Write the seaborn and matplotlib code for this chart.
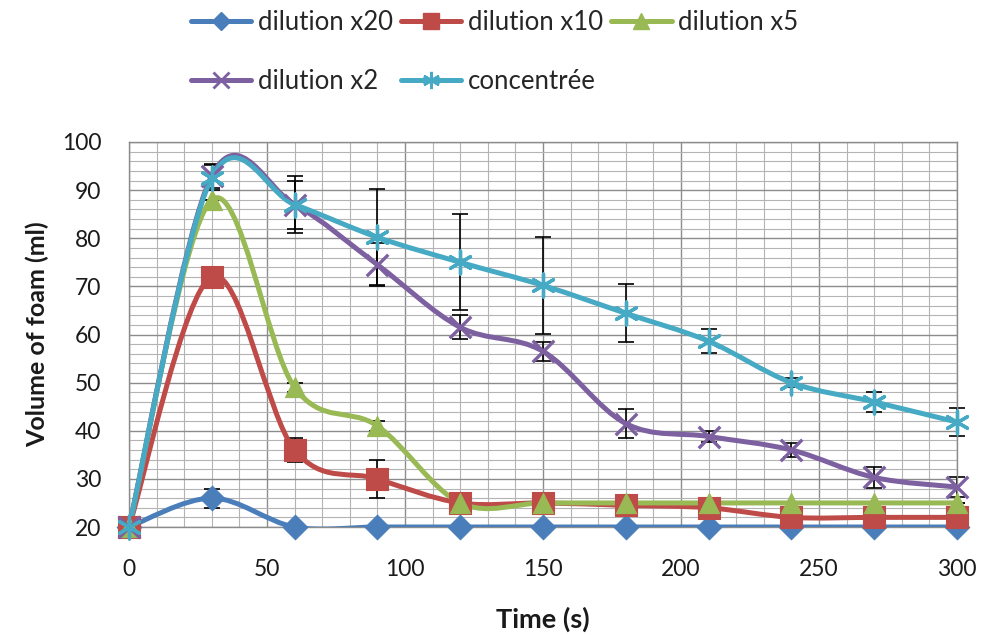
import matplotlib
matplotlib.use("Agg")
import matplotlib.pyplot as plt
from matplotlib.path import Path
from matplotlib.patches import PathPatch
from matplotlib.lines import Line2D
from matplotlib.ticker import MultipleLocator
import numpy as np
import pandas as pd
import seaborn as sns

# --- data ---
time_s = [0, 30, 60, 90, 120, 150, 180, 210, 240, 270, 300]

dil_x20 = [20, 26, 20, 20, 20, 20, 20, 20, 20, 20, 20]
dil_x10 = [20, 72, 36, 30, 25, 25, 24.5, 24, 22, 22, 22]
dil_x5 = [20, 88, 49, 41, 25, 25, 25, 25, 25, 25, 25]
dil_x2 = [20, 93, 87, 74.5, 61.5, 56.5, 41.5, 38.8, 36, 30.3, 28.3]
conc = [20, 92.6, 87, 80.2, 75, 70.2, 64.4, 58.6, 50, 46, 41.8]

err_x20 = [0, 2, 0, 0, 0, 0, 0, 0, 0, 0, 0]
err_x10 = [0, 0, 2.5, 4, 1, 0, 1, 0, 0, 0, 0]
err_x5 = [0, 0, 1, 1, 1, 0, 1, 0, 0, 0, 0]
err_x2 = [0, 2.5, 5, 4.5, 2.5, 2, 3, 1.2, 1.5, 2.2, 2]
conc_err = [0, 2.6, 6, 10, 10, 10, 6, 2.5, 1, 2, 2.9]

labels = ["dilution x20", "dilution x10", "dilution x5", "dilution x2", "concentrée"]
colors = ["#4A7EBB", "#BE4B48", "#98B954", "#7D60A0", "#46AAC5"]
markers = ["D", "s", "^", "x", (6, 2, 0)]
marker_sizes = [12.5, 16, 14.5, 15.5, 16.5]

series = [dil_x20, dil_x10, dil_x5, dil_x2, conc]
errors = [err_x20, err_x10, err_x5, err_x2, conc_err]


def smooth_path(xs, ys):
    """Excel-like smoothed line: cubic Bezier through the points."""
    pts = np.column_stack([xs, ys]).astype(float)
    n = len(pts)
    verts = [pts[0]]
    codes = [Path.MOVETO]
    for i in range(n - 1):
        p0 = pts[max(i - 1, 0)]
        p1 = pts[i]
        p2 = pts[i + 1]
        p3 = pts[min(i + 2, n - 1)]
        c1 = p1 + (p2 - p0) / 6.0
        c2 = p2 - (p3 - p1) / 6.0
        verts += [c1, c2, p2]
        codes += [Path.CURVE4] * 3
    return Path(verts, codes)


def is_line_marker(m):
    return m == "x" or isinstance(m, tuple)


sns.set_theme(style="white")
plt.rcParams['font.family'] = ['Lato', 'DejaVu Sans']

fig = plt.figure(figsize=(9.91, 6.35), dpi=100)
ax = fig.add_axes([129 / 991, 1 - 527 / 635, (957 - 129) / 991, (527 - 142) / 635])

ax.set_xlim(0, 300)
ax.set_ylim(20, 100)
ax.xaxis.set_major_locator(MultipleLocator(50))
ax.xaxis.set_minor_locator(MultipleLocator(10))
ax.yaxis.set_major_locator(MultipleLocator(10))
ax.yaxis.set_minor_locator(MultipleLocator(2))
ax.grid(which="major", color="#8c8c8c", linewidth=1.0)
ax.grid(which="minor", color="#b4b4b4", linewidth=0.8)
ax.set_axisbelow(True)
for sp in ax.spines.values():
    sp.set_color("#8c8c8c")
    sp.set_linewidth(1.0)

# error bars (black, drawn under the lines)
for ys, es in zip(series, errors):
    ax.errorbar(time_s, ys, yerr=es, fmt="none", ecolor="black", elinewidth=1.2,
                capsize=6, capthick=1.2, zorder=2, clip_on=False)

# smoothed lines
for ys, c in zip(series, colors):
    ax.add_patch(PathPatch(smooth_path(time_s, ys), facecolor="none", edgecolor=c,
                           linewidth=3.6, zorder=3, capstyle="round", joinstyle="round"))

# markers via seaborn
df = pd.DataFrame({
    "time": np.tile(time_s, len(labels)),
    "volume": np.concatenate(series),
    "serie": np.repeat(labels, len(time_s)),
})
for lab, c, m, s in zip(labels, colors, markers, marker_sizes):
    sub = df[df["serie"] == lab]
    if is_line_marker(m):
        sns.scatterplot(data=sub, x="time", y="volume", ax=ax, marker=m, s=s ** 2,
                        color=c, linewidth=2.4, legend=False, zorder=4, clip_on=False)
    else:
        sns.scatterplot(data=sub, x="time", y="volume", ax=ax, marker=m, s=s ** 2,
                        color=c, edgecolor=c, linewidth=0.8, legend=False, zorder=4,
                        clip_on=False)

ax.tick_params(axis="x", which="both", length=0, labelsize=16.5, pad=23, colors="#1a1a1a")
ax.tick_params(axis="y", which="both", length=0, labelsize=16.5, pad=20, colors="#1a1a1a")
ax.set_xlabel("Time (s)", fontsize=19.5, fontweight="bold", labelpad=19, color="#1a1a1a")
ax.set_ylabel("Volume of foam (ml)", fontsize=18, fontweight="bold", labelpad=9, color="#1a1a1a")

# legend in Excel row order: reorder for column-wise filling
handles = []
for c, m, s in zip(colors, markers, marker_sizes):
    if is_line_marker(m):
        h = Line2D([], [], color=c, linewidth=3.6, marker=m, markersize=s * 0.75,
                   markeredgewidth=2.0)
    else:
        h = Line2D([], [], color=c, linewidth=3.6, marker=m, markersize=s * 0.75)
    handles.append(h)
order = [0, 3, 1, 4, 2]
fig.legend([handles[i] for i in order], [labels[i] for i in order],
           loc="upper left", bbox_to_anchor=(191 / 991, 1 - 10 / 635), ncol=3,
           frameon=False, fontsize=18.5, handlelength=2.35, handletextpad=0.25,
           columnspacing=0.32, labelspacing=1.32, borderpad=0, borderaxespad=0)

fig.savefig("out.png", dpi=100)
